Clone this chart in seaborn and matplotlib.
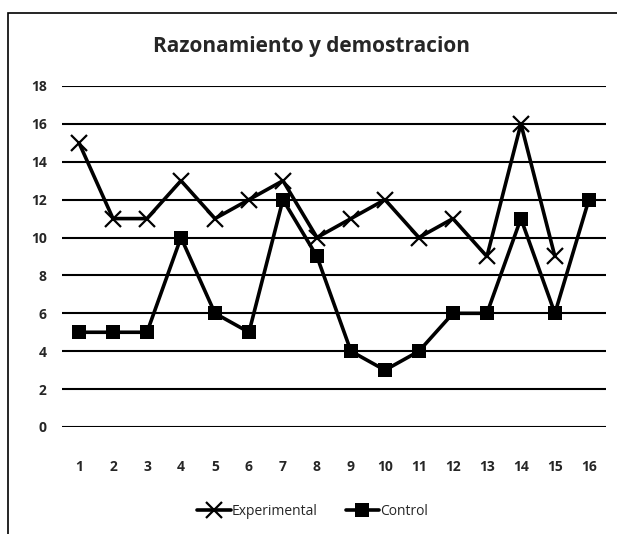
import matplotlib
matplotlib.use("Agg")
import matplotlib.pyplot as plt
from matplotlib.lines import Line2D
from matplotlib.patches import Rectangle
import seaborn as sns

# values
sessions = list(range(1, 17))
experimental = [15, 11, 11, 13, 11, 12, 13, 10, 11, 12, 10, 11, 9, 16, 9]
control = [5, 5, 5, 10, 6, 5, 12, 9, 4, 3, 4, 6, 6, 11, 6, 12]
y_ticks = [0, 2, 4, 6, 8, 10, 12, 14, 16, 18]

sns.set_theme(style="white")
plt.rcParams['font.family'] = ['Open Sans', 'DejaVu Sans']

fig = plt.figure(figsize=(6.17, 5.34), dpi=100)
ax = fig.add_axes([0.1005, 0.2004, 0.8815, 0.6386])

sns.lineplot(x=sessions[:len(experimental)], y=experimental, color="black",
             marker="x", markersize=11, markeredgewidth=1.6, markeredgecolor="black",
             linewidth=2.6, ax=ax)
sns.lineplot(x=sessions, y=control, color="black",
             marker="s", markersize=10, markeredgewidth=0, linewidth=2.6, ax=ax)

ax.set_xlim(0.5, 16.5)
ax.set_ylim(0, 18)
ax.set_xticks(sessions)
ax.set_xticklabels([str(s) for s in sessions], fontweight="bold", fontsize=10)
ax.set_yticks(y_ticks)
ax.set_yticklabels([str(t) for t in y_ticks], fontweight="bold", fontsize=10)
ax.yaxis.grid(True, color="black", linewidth=1.5)
ax.set_axisbelow(True)
for s in ax.spines.values():
    s.set_visible(False)
ax.tick_params(axis="x", length=0, pad=24)
ax.tick_params(axis="y", length=0, pad=11)
ax.set_xlabel("")
ax.set_ylabel("")

fig.text(0.505, 0.912, "Razonamiento y demostracion", ha="center", va="center",
         fontsize=15, fontweight="bold")

# legend
handles = [
    Line2D([], [], color="black", linewidth=2.6, marker="x", markersize=11,
           markeredgewidth=1.6, markeredgecolor="black"),
    Line2D([], [], color="black", linewidth=2.6, marker="s", markersize=10, markeredgewidth=0),
]
fig.legend(handles, ["Experimental", "Control"], loc="center", bbox_to_anchor=(0.507, 0.042),
           ncol=2, frameon=False, fontsize=10, handlelength=2.4, handletextpad=0.1,
           columnspacing=2.0)

# outer border
fig.patches.append(Rectangle((0.013, -0.01), 1.0, 0.985, transform=fig.transFigure,
                             fill=False, edgecolor="black", linewidth=1.2))

fig.savefig("out.png", dpi=100)
